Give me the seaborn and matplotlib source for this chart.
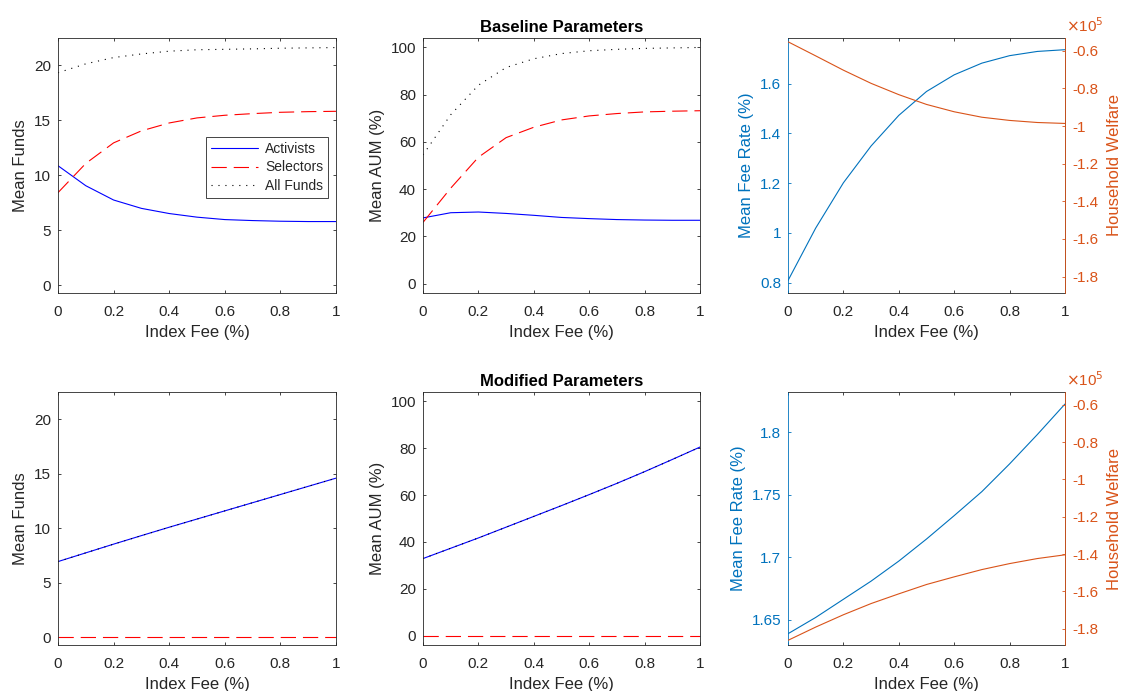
import matplotlib
matplotlib.use("Agg")
import matplotlib.pyplot as plt
from matplotlib.ticker import FuncFormatter, FixedLocator
from matplotlib.lines import Line2D
import pandas as pd
import seaborn as sns

# ---------------------------------------------------------------- data
index_fee = [0.0, 0.1, 0.2, 0.3, 0.4, 0.5, 0.6, 0.7, 0.8, 0.9, 1.0]

# Baseline parameters
base_funds_activists = [10.88, 9.06, 7.76, 7.00, 6.53, 6.20, 5.98, 5.89, 5.83, 5.80, 5.80]
base_funds_selectors = [8.43, 11.09, 12.96, 14.05, 14.77, 15.23, 15.47, 15.62, 15.74, 15.80, 15.83]
base_funds_all = [19.34, 20.15, 20.72, 21.05, 21.30, 21.43, 21.47, 21.51, 21.57, 21.60, 21.63]

base_aum_activists = [27.8, 30.0, 30.3, 29.7, 28.9, 28.0, 27.5, 27.1, 26.9, 26.8, 26.8]
base_aum_selectors = [25.9, 40.4, 53.5, 61.8, 66.2, 69.3, 71.0, 72.0, 72.7, 73.0, 73.2]
base_aum_all = [54.5, 71.5, 84.0, 91.5, 95.2, 97.4, 98.6, 99.2, 99.6, 99.8, 100.0]

base_fee_rate = [0.808, 1.019, 1.201, 1.349, 1.472, 1.568, 1.635, 1.682, 1.712, 1.729, 1.736]
base_welfare = [-55200, -62700, -70300, -77300, -83300, -88500, -92400, -95300, -97000, -98100, -98600]

# Modified parameters
mod_funds_activists = [6.95, 7.75, 8.55, 9.33, 10.10, 10.85, 11.60, 12.35, 13.10, 13.85, 14.60]
mod_funds_selectors = [0, 0, 0, 0, 0, 0, 0, 0, 0, 0, 0]
mod_funds_all = [6.95, 7.75, 8.55, 9.33, 10.10, 10.85, 11.60, 12.35, 13.10, 13.85, 14.60]

mod_aum_activists = [32.9, 37.3, 41.7, 46.3, 50.9, 55.5, 60.2, 65.0, 70.0, 75.2, 80.5]
mod_aum_selectors = [0, 0, 0, 0, 0, 0, 0, 0, 0, 0, 0]
mod_aum_all = [32.9, 37.3, 41.7, 46.3, 50.9, 55.5, 60.2, 65.0, 70.0, 75.2, 80.5]

mod_fee_rate = [1.639, 1.652, 1.6665, 1.681, 1.697, 1.7146, 1.7333, 1.7525, 1.7746, 1.798, 1.8224]
mod_welfare = [-186200, -179100, -172500, -166500, -161300, -156300, -152200, -148300, -145100, -142400, -140400]

series_labels = ["Activists", "Selectors", "All Funds"]
fee_ticks = [0, 0.2, 0.4, 0.6, 0.8, 1]

# ---------------------------------------------------------------- style
sns.set_style("white")
plt.rcParams["font.family"] = ["Liberation Sans", "DejaVu Sans"]
plt.rcParams["axes.unicode_minus"] = False
plt.rcParams["lines.scale_dashes"] = False

INK = "#262626"
BLUE_L = "#0072BD"
ORANGE_R = "#D95319"
LW = 0.8
SERIES_STYLE = {
    "Activists": dict(color="#0000FF", dashes=None),
    "Selectors": dict(color="#FF0000", dashes=(11, 5)),
    "All Funds": dict(color="#000000", dashes=(0.8, 4.2)),
}

fmt_g = FuncFormatter(lambda v, p: f"{v:g}")
fmt_e5 = FuncFormatter(lambda v, p: f"{v / 1e5:g}")

fig = plt.figure(figsize=(11.22, 6.91), dpi=100)
W, H = 1122, 691


def add_axes_px(left, top, right, bottom):
    return fig.add_axes([left / W, 1 - bottom / H, (right - left) / W, (bottom - top) / H])


def frame(ax, ylim, yticks):
    ax.set_xlim(0, 1)
    ax.set_ylim(*ylim)
    ax.xaxis.set_major_locator(FixedLocator(fee_ticks))
    ax.yaxis.set_major_locator(FixedLocator(yticks))
    ax.xaxis.set_major_formatter(fmt_g)
    ax.yaxis.set_major_formatter(fmt_g)
    for s in ax.spines.values():
        s.set_color(INK)
        s.set_linewidth(0.6)
        s.set_visible(True)
    ax.tick_params(axis="both", direction="in", length=2.4, width=0.6, color=INK,
                   labelcolor=INK, labelsize=11)
    ax.tick_params(axis="x", top=True, bottom=True, pad=8.5)
    ax.tick_params(axis="y", pad=5)
    ax.set_xlabel("Index Fee (%)", fontsize=12, color=INK, labelpad=4.5)
    ax.grid(False)


def draw_series(ax, values):
    handles = []
    for label, vals in zip(series_labels, values):
        st = SERIES_STYLE[label]
        df = pd.DataFrame({"fee": index_fee, "value": vals})
        sns.lineplot(data=df, x="fee", y="value", ax=ax, color=st["color"],
                     linewidth=LW, legend=False, errorbar=None)
        line = ax.lines[-1]
        if st["dashes"] is not None:
            line.set_dashes(st["dashes"])
        handles.append(Line2D([], [], color=st["color"], linewidth=LW,
                              dashes=st["dashes"] if st["dashes"] else (None, None),
                              label=label))
    return handles


def funds_panel(ax, values):
    handles = draw_series(ax, values)
    frame(ax, (-0.7, 22.5), [0, 5, 10, 15, 20])
    ax.tick_params(axis="y", right=True, left=True)
    ax.set_ylabel("Mean Funds", fontsize=12, color=INK, labelpad=4)
    return handles


def aum_panel(ax, values, title):
    draw_series(ax, values)
    frame(ax, (-4, 104), [0, 20, 40, 60, 80, 100])
    ax.tick_params(axis="y", right=True, left=True)
    ax.set_ylabel("Mean AUM (%)", fontsize=12, color=INK, labelpad=4)
    ax.set_title(title, fontsize=12, fontweight="bold", color="black", pad=4)


def fee_panel(ax, fee_rate, welfare, ylim, yticks):
    sns.lineplot(x=index_fee, y=fee_rate, ax=ax, color=BLUE_L, linewidth=LW, errorbar=None)
    frame(ax, ylim, yticks)
    ax.tick_params(axis="y", left=True, right=False, colors=BLUE_L, labelcolor=BLUE_L)
    ax.spines["left"].set_color(BLUE_L)
    ax.set_ylabel("Mean Fee Rate (%)", fontsize=12, color=BLUE_L, labelpad=4)

    ax2 = ax.twinx()
    sns.lineplot(x=index_fee, y=welfare, ax=ax2, color=ORANGE_R, linewidth=LW, errorbar=None)
    ax2.set_ylim(-188700, -53200)
    ax2.yaxis.set_major_locator(FixedLocator([-180000, -160000, -140000, -120000,
                                              -100000, -80000, -60000]))
    ax2.yaxis.set_major_formatter(fmt_e5)
    for k in ("left", "top", "bottom"):
        ax2.spines[k].set_visible(False)
    ax2.spines["right"].set_color(ORANGE_R)
    ax2.spines["right"].set_linewidth(0.6)
    ax2.tick_params(axis="y", direction="in", length=2.4, width=0.6, colors=ORANGE_R,
                    labelcolor=ORANGE_R, labelsize=11, pad=5, right=True, left=False)
    ax2.set_ylabel("Household Welfare", fontsize=12, color=ORANGE_R, labelpad=6.5)
    ax2.annotate(r"$\times$10$^5$", xy=(1, 1), xycoords="axes fraction",
                 xytext=(1, 2), textcoords="offset points", ha="left", va="bottom",
                 fontsize=11, color=ORANGE_R)
    ax2.grid(False)


# ---------------------------------------------------------------- layout
col_px = [(58, 336), (423, 700), (788, 1065)]
row_px = [(38, 293), (392, 645)]

ax_tl = add_axes_px(col_px[0][0], row_px[0][0], col_px[0][1], row_px[0][1])
ax_tm = add_axes_px(col_px[1][0], row_px[0][0], col_px[1][1], row_px[0][1])
ax_tr = add_axes_px(col_px[2][0], row_px[0][0], col_px[2][1], row_px[0][1])
ax_bl = add_axes_px(col_px[0][0], row_px[1][0], col_px[0][1], row_px[1][1])
ax_bm = add_axes_px(col_px[1][0], row_px[1][0], col_px[1][1], row_px[1][1])
ax_br = add_axes_px(col_px[2][0], row_px[1][0], col_px[2][1], row_px[1][1])

legend_handles = funds_panel(ax_tl, [base_funds_activists, base_funds_selectors, base_funds_all])
aum_panel(ax_tm, [base_aum_activists, base_aum_selectors, base_aum_all], "Baseline Parameters")
fee_panel(ax_tr, base_fee_rate, base_welfare, (0.758, 1.783), [0.8, 1, 1.2, 1.4, 1.6])

funds_panel(ax_bl, [mod_funds_activists, mod_funds_selectors, mod_funds_all])
aum_panel(ax_bm, [mod_aum_activists, mod_aum_selectors, mod_aum_all], "Modified Parameters")
fee_panel(ax_br, mod_fee_rate, mod_welfare, (1.630, 1.832), [1.65, 1.7, 1.75, 1.8])

leg = ax_tl.legend(handles=legend_handles, loc="upper right", bbox_to_anchor=(0.971, 0.613),
                   borderaxespad=0, fontsize=10, frameon=True, fancybox=False,
                   edgecolor=INK, framealpha=1, handlelength=3.4, handletextpad=0.5,
                   labelspacing=0.35, borderpad=0.35)
leg.get_frame().set_linewidth(0.6)
for t in leg.get_texts():
    t.set_color(INK)

fig.savefig("out.png", dpi=100, facecolor="white")
